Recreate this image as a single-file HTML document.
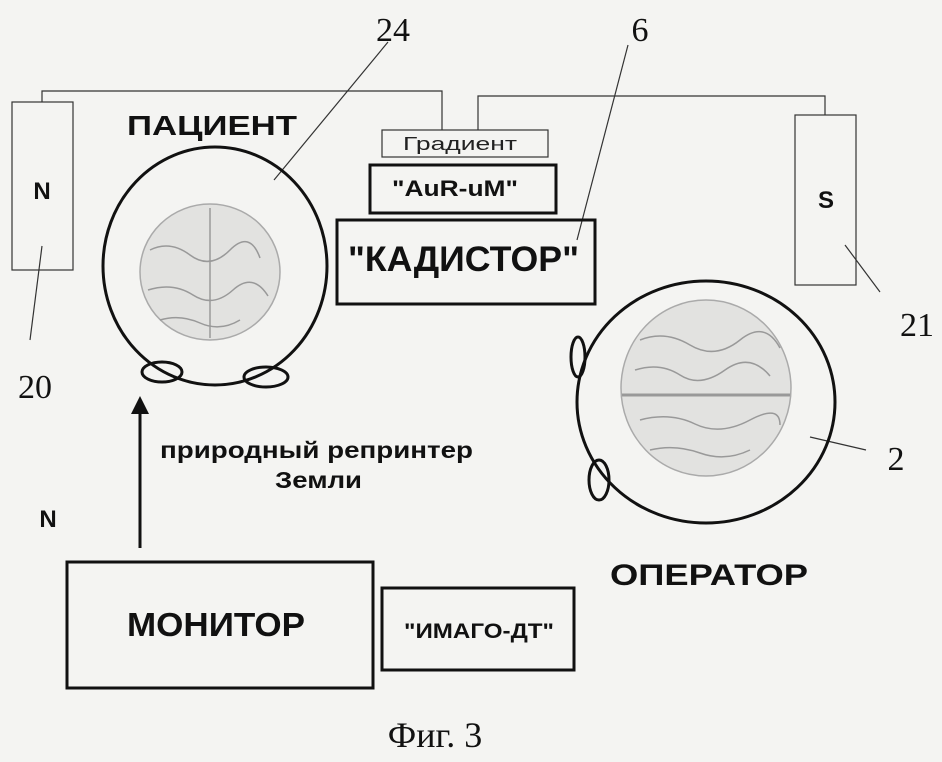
<!DOCTYPE html>
<html><head><meta charset="utf-8"><style>
body{margin:0;background:#f4f4f2;}
svg{display:block}
.s{font-family:"Liberation Sans",sans-serif;font-weight:bold;fill:#111}
.r{font-family:"Liberation Serif",serif;fill:#111}
</style></head><body>
<svg width="942" height="762" viewBox="0 0 942 762">
<rect width="942" height="762" fill="#f4f4f2"/>
<g fill="none" stroke="#333" stroke-width="1.2">
<polyline points="42,102 42,91 442,91 442,130"/>
<polyline points="478,130 478,96 825,96 825,115"/>
<rect x="12" y="102" width="61" height="168"/>
<rect x="795" y="115" width="61" height="170"/>
<rect x="382" y="130" width="166" height="27"/>
<line x1="388" y1="42" x2="274" y2="180"/>
<line x1="628" y1="45" x2="577" y2="240"/>
<line x1="845" y1="245" x2="880" y2="292"/>
<line x1="42" y1="246" x2="30" y2="340"/>
<line x1="810" y1="437" x2="866" y2="450"/>
</g>
<g fill="none" stroke="#111" stroke-width="3">
<rect x="370" y="165" width="186" height="48"/>
<rect x="337" y="220" width="258" height="84"/>
<rect x="67" y="562" width="306" height="126"/>
<rect x="382" y="588" width="192" height="82"/>
<ellipse cx="215" cy="266" rx="112" ry="119"/>
<ellipse cx="706" cy="402" rx="129" ry="121"/>
<ellipse cx="162" cy="372" rx="20" ry="10"/>
<ellipse cx="266" cy="377" rx="22" ry="10"/>
<ellipse cx="578" cy="357" rx="7" ry="20"/>
<ellipse cx="599" cy="480" rx="10" ry="20"/>
<line x1="140" y1="548" x2="140" y2="405"/>
</g>
<polygon points="140,396 131,414 149,414" fill="#111"/>
<g fill="#e2e2e0" stroke="#aaa" stroke-width="1.5">
<ellipse cx="210" cy="272" rx="70" ry="68"/>
<ellipse cx="706" cy="388" rx="85" ry="88"/>
</g>
<g fill="none" stroke="#999" stroke-width="1.5">
<line x1="210" y1="208" x2="210" y2="338"/>
<path d="M150 250 q20 -10 40 5 t40 -5 t30 8 M148 290 q25 -8 45 5 t40 -5 t35 6 M160 320 q20 -6 40 3 t40 -3"/>
<line x1="622" y1="395" x2="790" y2="395" stroke-width="3"/>
<path d="M640 340 q25 -10 50 5 t50 -5 t40 8 M635 370 q25 -8 45 5 t45 -5 t45 6 M640 420 q30 -8 55 4 t55 -4 t30 5 M650 450 q25 -6 50 3 t50 -3"/>
</g>
<text x="127" y="135" class="s" font-size="28" textLength="170" lengthAdjust="spacingAndGlyphs">ПАЦИЕНТ</text>
<text x="403" y="150" font-family="Liberation Sans,sans-serif" font-size="18" fill="#222" textLength="114" lengthAdjust="spacingAndGlyphs">Градиент</text>
<text x="392" y="196" class="s" font-size="22" textLength="126" lengthAdjust="spacingAndGlyphs">"AuR-uM"</text>
<text x="348" y="271" class="s" font-size="35" textLength="231" lengthAdjust="spacingAndGlyphs">"КАДИСТОР"</text>
<text x="42" y="199" class="s" font-size="24" text-anchor="middle">N</text>
<text x="826" y="208" class="s" font-size="24" text-anchor="middle">S</text>
<text x="48" y="527" class="s" font-size="24" text-anchor="middle">N</text>
<text x="160" y="458" class="s" font-size="23" textLength="313" lengthAdjust="spacingAndGlyphs">природный репринтер</text>
<text x="275" y="488" class="s" font-size="23" textLength="87" lengthAdjust="spacingAndGlyphs">Земли</text>
<text x="610" y="585" class="s" font-size="30" textLength="198" lengthAdjust="spacingAndGlyphs">ОПЕРАТОР</text>
<text x="127" y="636" class="s" font-size="33" textLength="178" lengthAdjust="spacingAndGlyphs">МОНИТОР</text>
<text x="404" y="638" class="s" font-size="21" textLength="150" lengthAdjust="spacingAndGlyphs">"ИМАГО-ДТ"</text>
<text x="393" y="41" class="r" font-size="34" text-anchor="middle">24</text>
<text x="640" y="41" class="r" font-size="34" text-anchor="middle">6</text>
<text x="917" y="336" class="r" font-size="34" text-anchor="middle">21</text>
<text x="35" y="398" class="r" font-size="34" text-anchor="middle">20</text>
<text x="896" y="470" class="r" font-size="34" text-anchor="middle">2</text>
<text x="435" y="747" class="r" font-size="36" text-anchor="middle">Фиг. 3</text>
</svg>
</body></html>
